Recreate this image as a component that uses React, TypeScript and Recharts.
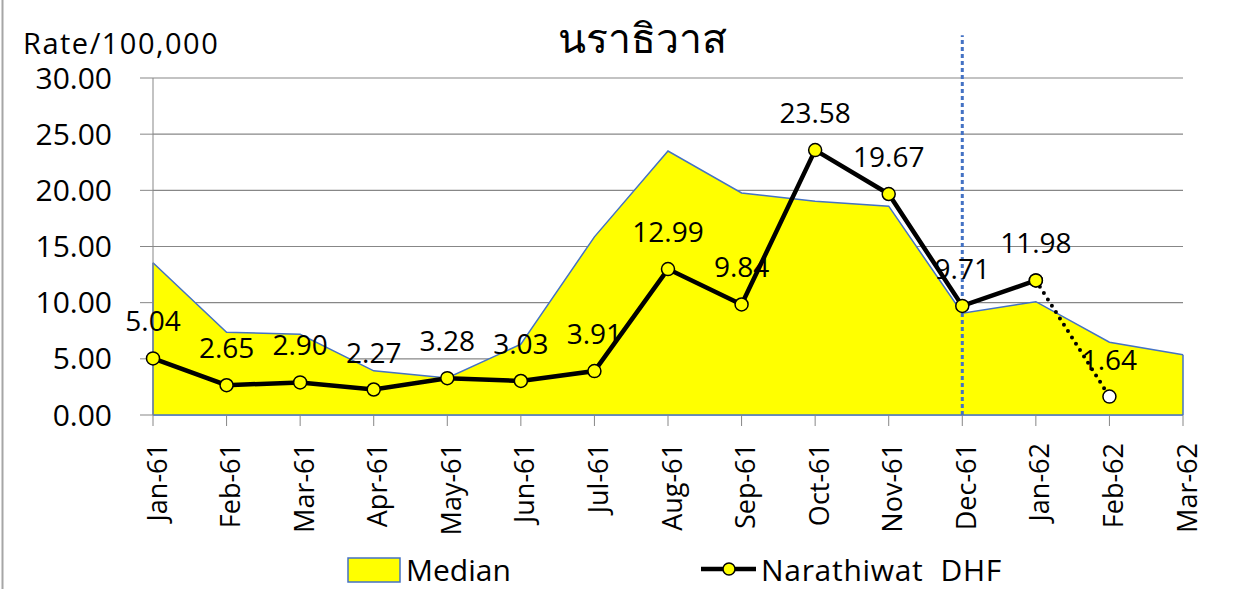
import { ComposedChart, Area, Line, XAxis, YAxis, CartesianGrid, LabelList, ReferenceLine } from "recharts";

const months = ["Jan-61", "Feb-61", "Mar-61", "Apr-61", "May-61", "Jun-61", "Jul-61", "Aug-61", "Sep-61", "Oct-61", "Nov-61", "Dec-61", "Jan-62", "Feb-62", "Mar-62"];
const median = [13.55, 7.37, 7.18, 3.93, 3.3, 6.3, 15.86, 23.5, 19.77, 19.03, 18.59, 9.06, 10.09, 6.48, 5.36];
const dhf = [5.04, 2.65, 2.9, 2.27, 3.28, 3.03, 3.91, 12.99, 9.84, 23.58, 19.67, 9.71, 11.98, null, null];
const dhfPartial = [null, null, null, null, null, null, null, null, null, null, null, null, 11.98, 1.64, null];
const yTicks = [0, 5, 10, 15, 20, 25, 30];
const cutoffMonth = "Dec-61";

const data = months.map((m, i) => ({
  month: m,
  median: median[i],
  dhf: dhf[i],
  dhfPartial: dhfPartial[i],
}));

const FONT = "'Open Sans', 'Noto Sans', 'DejaVu Sans', sans-serif";
const GRID = "#878787";
const BLUE = "#4472C4";

const XTick = ({ x, y, payload }: any) => (
  <text
    transform={`translate(${x + 3},${y}) rotate(-90)`}
    textAnchor="end"
    dominantBaseline="central"
    fontSize={27}
    fontFamily={FONT}
    fill="#000"
  >
    {payload.value}
  </text>
);

const pointLabel = (props: any) => {
  const { x, y, value } = props;
  if (value == null) return null;
  return (
    <text x={x} y={y - 38} textAnchor="middle" dominantBaseline="central" fontSize={28} fontFamily={FONT} fill="#000">
      {Number(value).toFixed(2)}
    </text>
  );
};

// only label the points that the solid line does not already cover
const partialLabel = (props: any) => {
  if (dhf[props.index] != null) return null;
  return pointLabel(props);
};

export default function App() {
  return (
    <div style={{ position: "absolute", left: 0, top: 0, width: 1236, height: 589, background: "#fff" }}>
      <ComposedChart width={1236} height={589} data={data} margin={{ top: 78, right: 53, bottom: 0, left: 0 }}>
        <CartesianGrid vertical={false} stroke={GRID} strokeWidth={1.2} />
        <XAxis
          dataKey="month"
          scale="point"
          interval={0}
          height={174}
          tick={<XTick />}
          tickSize={11}
          tickMargin={17}
          tickLine={{ stroke: GRID }}
          axisLine={{ stroke: BLUE, strokeWidth: 1.5 }}
        />
        <YAxis
          domain={[0, 30]}
          ticks={yTicks}
          width={153}
          tickSize={13}
          tickMargin={28}
          tickLine={{ stroke: GRID }}
          axisLine={{ stroke: GRID }}
          tickFormatter={(v) => v.toFixed(2)}
          tick={{ fontSize: 30, fill: "#000", fontFamily: FONT }}
        />
        <Area
          type="linear"
          dataKey="median"
          name="Median"
          fill="#FFFF00"
          fillOpacity={1}
          stroke={BLUE}
          strokeWidth={1.5}
          isAnimationActive={false}
        />
        <ReferenceLine
          segment={[{ x: months[0], y: 0 }, { x: months[0], y: median[0] }]}
          stroke={BLUE}
          strokeWidth={1.5}
        />
        <ReferenceLine
          segment={[{ x: months[months.length - 1], y: 0 }, { x: months[months.length - 1], y: median[median.length - 1] }]}
          stroke={BLUE}
          strokeWidth={1.5}
        />
        <ReferenceLine
          segment={[{ x: cutoffMonth, y: 0 }, { x: cutoffMonth, y: 33.8 }]}
          stroke={BLUE}
          strokeWidth={3}
          strokeDasharray="4 3"
          ifOverflow="visible"
        />
        <Line
          type="linear"
          dataKey="dhfPartial"
          stroke="#000"
          strokeWidth={4}
          strokeDasharray="0 7.5"
          strokeLinecap="round"
          dot={{ r: 6.5, fill: "#fff", stroke: "#000", strokeWidth: 1.5, strokeDasharray: "none" }}
          isAnimationActive={false}
        >
          <LabelList dataKey="dhfPartial" content={partialLabel} />
        </Line>
        <Line
          type="linear"
          dataKey="dhf"
          name="Narathiwat  DHF"
          stroke="#000"
          strokeWidth={4.5}
          dot={{ r: 6.5, fill: "#FFFF00", stroke: "#000", strokeWidth: 1.5 }}
          isAnimationActive={false}
        >
          <LabelList dataKey="dhf" content={pointLabel} />
        </Line>
      </ComposedChart>

      <svg width={1236} height={589} style={{ position: "absolute", left: 0, top: 0, pointerEvents: "none" }}>
        <line x1={2.5} y1={0} x2={2.5} y2={589} stroke="#a6a6a6" strokeWidth={2} />
        <text x={642} y={53} textAnchor="middle" fontSize={41} fontFamily={FONT} fill="#000">
          นราธิวาส
        </text>
        <text x={23} y={54} fontSize={29} letterSpacing={1.5} fontFamily={FONT} fill="#000">
          Rate/100,000
        </text>
        <rect x={348} y={558} width={52} height={24} fill="#FFFF00" stroke={BLUE} strokeWidth={1.5} />
        <text x={406} y={581} fontSize={30} fontFamily={FONT} fill="#000">
          Median
        </text>
        <line x1={701} y1={569} x2={756} y2={569} stroke="#000" strokeWidth={4.5} />
        <circle cx={729} cy={569} r={6} fill="#FFFF00" stroke="#000" strokeWidth={1.5} />
        <text x={761} y={581} fontSize={30} letterSpacing={0.7} fontFamily={FONT} fill="#000" style={{ whiteSpace: "pre" }}>
          {"Narathiwat  DHF"}
        </text>
      </svg>
    </div>
  );
}
